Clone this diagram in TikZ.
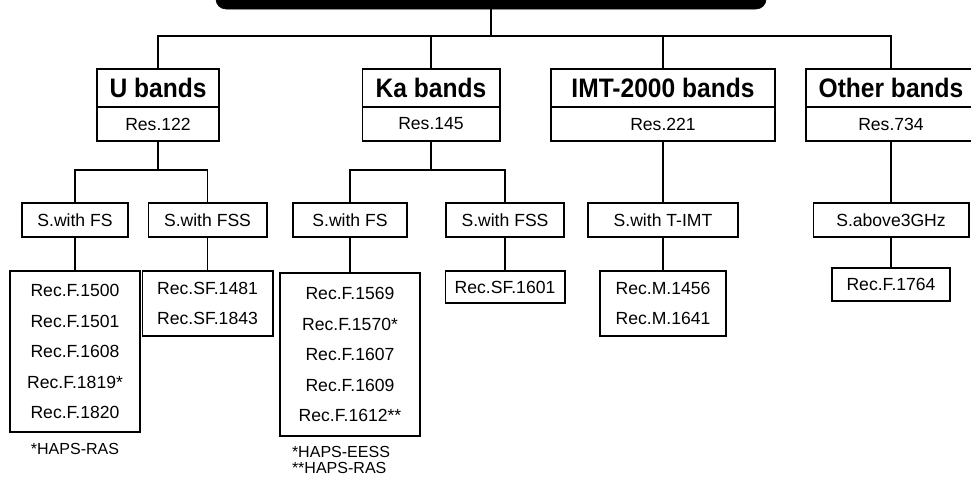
\documentclass[tikz,border=0pt]{standalone}
\usepackage{fontspec}
\setmainfont{Liberation Sans}
\newfontfamily\bandfont{Liberation Sans}[FakeStretch=0.92]
\usetikzlibrary{positioning}

\begin{document}
\begin{tikzpicture}[x=0.025cm, y=-0.025cm]
    \tikzstyle{banner} = [rectangle, rounded corners=0.25cm, minimum width=13.75cm, minimum height=0.975cm, fill=black, draw=black]
    \tikzstyle{band} = [rectangle, draw=black, line width=1.4pt, outer sep=0pt, inner sep=0pt, minimum height=0.95cm, text centered, font=\bandfont\bfseries\fontsize{19}{21}\selectfont]
    \tikzstyle{res} = [rectangle, draw=black, line width=1.4pt, outer sep=0pt, inner sep=0pt, minimum height=0.85cm, text centered, font=\fontsize{12.5}{15}\selectfont]
    \tikzstyle{service} = [rectangle, draw=black, line width=1.4pt, inner sep=0pt, minimum height=0.85cm, text centered, font=\fontsize{12.5}{15}\selectfont]
    \tikzstyle{rec} = [rectangle, draw=black, line width=1.4pt, inner sep=0pt, align=center, font=\fontsize{12.5}{21.7}\selectfont]
    \tikzstyle{note} = [align=left, inner sep=0pt, font=\fontsize{11.4}{12}\selectfont]
    \tikzstyle{line} = [line width=1.2pt]

    \useasboundingbox (0,0) rectangle (971,479);

    % top banner, cut by the page edge
    \node (top) [banner] at (491,-10.5) {};
    \coordinate (bus) at (491,36);

    % band groups
    \node (u) [band, minimum width=3.05cm] at (158,88) {U bands};
    \node (ures) [res, minimum width=3.05cm, below=0pt of u] {Res.122};
    \node (ka) [band, minimum width=3.425cm] at (431,88) {Ka bands};
    \node (kares) [res, minimum width=3.425cm, below=0pt of ka] {Res.145};
    \node (imt) [band, minimum width=5.575cm] at (663,88) {IMT-2000 bands};
    \node (imtres) [res, minimum width=5.575cm, below=0pt of imt] {Res.221};
    \node (oth) [band, minimum width=4.25cm] at (891,88) {Other bands};
    \node (othres) [res, minimum width=4.25cm, below=0pt of oth] {Res.734};

    % services
    \coordinate (ubus) at (158,170);
    \coordinate (kabus) at (431,170);
    \node (ufs) [service, minimum width=2.65cm] at (75,220) {S.with FS};
    \node (ufss) [service, minimum width=2.95cm] at (207.5,220) {S.with FSS};
    \node (kafs) [service, minimum width=2.85cm] at (350,220) {S.with FS};
    \node (kafss) [service, minimum width=2.95cm] at (505,220) {S.with FSS};
    \node (imtsvc) [service, minimum width=3.75cm] at (663,220) {S.with T-IMT};
    \node (othsvc) [service, minimum width=3.875cm] at (891,220) {S.above3GHz};

    % recommendations
    \node (ufsrec) [rec, minimum width=3.225cm, minimum height=4.025cm] at (75,351.5) {Rec.F.1500\\Rec.F.1501\\Rec.F.1608\\Rec.F.1819*\\Rec.F.1820};
    \node (ufssrec) [rec, minimum width=3.25cm, minimum height=1.625cm] at (207.5,303.5) {Rec.SF.1481\\Rec.SF.1843};
    \node (kafsrec) [rec, minimum width=3.5cm, minimum height=4.075cm] at (350,354.5) {Rec.F.1569\\Rec.F.1570*\\Rec.F.1607\\Rec.F.1609\\Rec.F.1612**};
    \node (kafssrec) [rec, minimum width=2.975cm, minimum height=0.8cm] at (505,287) {Rec.SF.1601};
    \node (imtrec) [rec, minimum width=3.15cm, minimum height=1.625cm] at (663,303.5) {Rec.M.1456\\Rec.M.1641};
    \node (othrec) [rec, minimum width=2.95cm, minimum height=0.825cm] at (891,284.5) {Rec.F.1764};

    % footnotes
    \node (unote) [note] at (75,449) {*HAPS-RAS};
    \node (kanote) [note] at (341,460) {*HAPS-EESS\\**HAPS-RAS};

    \draw [line] (top) -- (bus);
    \draw [line] (bus) -| (u);
    \draw [line] (bus) -| (ka);
    \draw [line] (bus) -| (imt);
    \draw [line] (bus) -| (oth);
    \draw [line] (ures) -- (ubus);
    \draw [line] (ubus) -| (ufs);
    \draw [line] (ubus) -| (ufss);
    \draw [line] (kares) -- (kabus);
    \draw [line] (kabus) -| (kafs);
    \draw [line] (kabus) -| (kafss);
    \draw [line] (imtres) -- (imtsvc);
    \draw [line] (othres) -- (othsvc);
    \draw [line] (ufs) -- (ufsrec);
    \draw [line] (ufss) -- (ufssrec);
    \draw [line] (kafs) -- (kafsrec);
    \draw [line] (kafss) -- (kafssrec);
    \draw [line] (imtsvc) -- (imtrec);
    \draw [line] (othsvc) -- (othrec);
\end{tikzpicture}
\end{document}
